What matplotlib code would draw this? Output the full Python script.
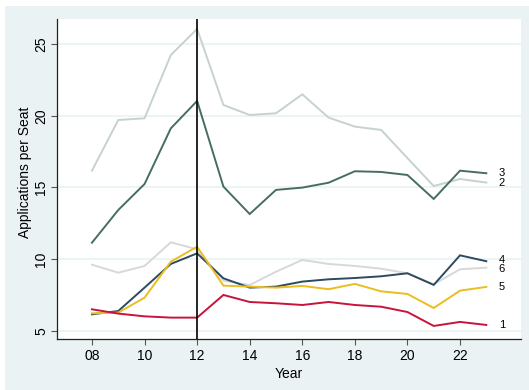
import matplotlib
matplotlib.use("Agg")
import matplotlib.pyplot as plt
from matplotlib.patches import Rectangle

plt.rcParams["font.family"] = ["Liberation Sans", "DejaVu Sans"]

# Academic years 2008..2023
years = list(range(8, 24))
tick_years = [8, 10, 12, 14, 16, 18, 20, 22]
tick_labels = ["08", "10", "12", "14", "16", "18", "20", "22"]
y_ticks = [5, 10, 15, 20, 25]

series_1 = [6.51, 6.21, 6.02, 5.93, 5.93, 7.51, 7.02, 6.93, 6.81, 7.02, 6.81, 6.69, 6.32, 5.35, 5.63, 5.42]
series_2 = [16.17, 19.70, 19.82, 24.23, 26.05, 20.75, 20.05, 20.17, 21.49, 19.87, 19.24, 19.01, 17.05, 15.10, 15.59, 15.34]
series_3 = [11.15, 13.43, 15.24, 19.12, 21.03, 15.06, 13.15, 14.83, 14.99, 15.33, 16.13, 16.08, 15.87, 14.20, 16.17, 15.99]
series_4 = [6.16, 6.39, 8.02, 9.67, 10.41, 8.67, 8.02, 8.09, 8.44, 8.60, 8.69, 8.81, 9.02, 8.21, 10.27, 9.86]
series_5 = [6.23, 6.28, 7.32, 9.83, 10.87, 8.16, 8.09, 8.02, 8.14, 7.91, 8.28, 7.76, 7.58, 6.60, 7.81, 8.07]
series_6 = [9.62, 9.06, 9.53, 11.18, 10.69, 8.50, 8.20, 9.13, 9.95, 9.67, 9.53, 9.34, 9.02, 8.25, 9.30, 9.41]

# name, values, colour, draw order, small vertical nudge of the end label (pt)
series = [
    ("2", series_2, "#c6d3cc", 2, -0.5),
    ("3", series_3, "#466e5f", 3, 0.5),
    ("6", series_6, "#d8d8d8", 4, -1.0),
    ("4", series_4, "#2d4a60", 5, 1.0),
    ("5", series_5, "#ebbd1e", 6, 0),
    ("1", series_1, "#c8143c", 7, 0),
]

bg = "#eaf2f3"
W, H = 529, 390
fig = plt.figure(figsize=(W / 100, H / 100), dpi=100, facecolor="white")
fig.patches.append(Rectangle((5 / W, 0), 1 - 5 / W, (H - 6) / H,
                             transform=fig.transFigure, facecolor=bg,
                             edgecolor="none", zorder=-10))

ax = fig.add_axes([57 / W, 1 - 339 / H, (521 - 57) / W, (339 - 19) / H])
ax.set_zorder(1)
ax.set_facecolor("white")
ax.set_xlim(6.67, 24.32)
ax.set_ylim(4.44, 26.74)

for y in y_ticks:
    ax.axhline(y, color=bg, lw=1.2, zorder=1)

ax.axvline(12, color="black", lw=1.2, zorder=10)

for name, vals, color, z, dy in series:
    ax.plot(years, vals, color=color, lw=1.4, zorder=z, solid_joinstyle="miter")
    ax.annotate(name, xy=(years[-1], vals[-1]), xytext=(9, dy),
                textcoords="offset points", va="center", ha="left",
                fontsize=8, color="black", annotation_clip=False)

ax.set_xticks(tick_years)
ax.set_xticklabels(tick_labels)
ax.set_yticks(y_ticks)
ax.set_yticklabels([str(v) for v in y_ticks], rotation=90, va="center")

ax.tick_params(axis="both", labelsize=10, length=4.5, width=0.8,
               color="#555555", labelcolor="black")
ax.tick_params(axis="y", pad=2)
ax.tick_params(axis="x", pad=3)

for s in ["top", "right"]:
    ax.spines[s].set_visible(False)
for s in ["left", "bottom"]:
    ax.spines[s].set_color("#222222")
    ax.spines[s].set_linewidth(0.9)

ax.set_xlabel("Year", fontsize=10)
ax.set_ylabel("Applications per Seat", fontsize=10)
ax.yaxis.set_label_coords(-0.054, 0.52)
ax.xaxis.set_label_coords(0.5, -0.089)

fig.savefig("out.png", dpi=100, facecolor=fig.get_facecolor())
